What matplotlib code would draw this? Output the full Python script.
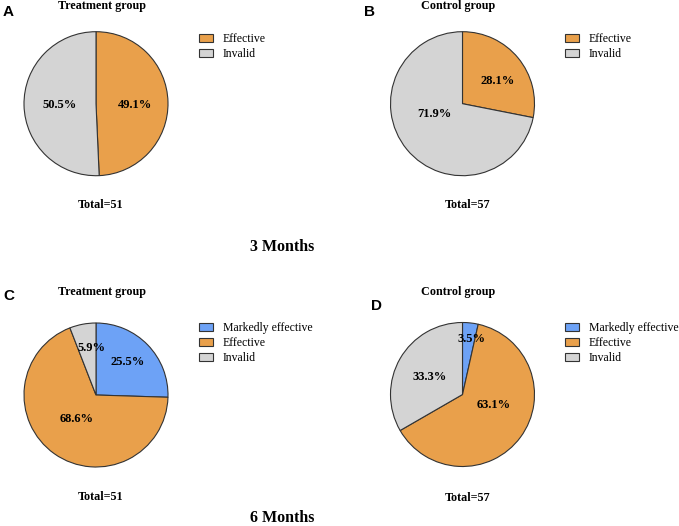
import matplotlib
matplotlib.use("Agg")
import matplotlib.pyplot as plt

# data
legend_2 = ["Effective", "Invalid"]
legend_3 = ["Markedly effective", "Effective", "Invalid"]

a_vals = [49.1, 50.5]
b_vals = [28.1, 71.9]
c_vals = [25.5, 68.6, 5.9]
d_vals = [3.5, 63.1, 33.3]

a_total, b_total, c_total, d_total = 51, 57, 51, 57

orange = "#E9A04B"
grey = "#D4D4D4"
blue = "#6DA2F6"

W, H = 679, 526
R = 72.0  # pie radius in pixels

plt.rcParams["font.family"] = ["Liberation Serif", "DejaVu Serif"]
fig = plt.figure(figsize=(W / 100, H / 100), dpi=100)


def ftext(x, y, s, **kw):
    fig.text(x / W, 1 - y / H, s, ha="center", va="center", **kw)


def draw_pie(cx, cy, vals, colors, labels, label_pos, leg_x, leg_y):
    size = 2.2 * R
    ax = fig.add_axes([(cx - size / 2) / W, (H - cy - size / 2) / H, size / W, size / H])
    wedges, _ = ax.pie(vals, colors=colors, startangle=90, counterclock=False,
                       wedgeprops=dict(edgecolor="#333333", linewidth=0.8))
    ax.set_xlim(-1.1, 1.1)
    ax.set_ylim(-1.1, 1.1)
    ax.set_aspect("equal")
    for v, (dx, dy) in zip(vals, label_pos):
        ax.text(dx / R, -dy / R, "%.1f%%" % v, ha="center", va="center",
                fontsize=9, fontweight="bold")
    fs = 8.5 * 100 / 72
    ax.legend(wedges, labels, loc="upper left", frameon=False,
              bbox_to_anchor=(leg_x / W, 1 - leg_y / H), bbox_transform=fig.transFigure,
              borderpad=0, borderaxespad=0, fontsize=8.5,
              handlelength=14 / fs, handleheight=8 / fs, handletextpad=10 / fs,
              labelspacing=0.25)
    return ax


# A
draw_pie(96, 103.7, a_vals, [orange, grey], legend_2,
         [(39.3, 1.3), (-36.3, 1.3)], 199, 33)
# B
draw_pie(462.5, 103.7, b_vals, [orange, grey], legend_2,
         [(35.5, -22.7), (-27.8, 10.5)], 565, 33)
# C
draw_pie(96, 395, c_vals, [blue, orange, grey], legend_3,
         [(31.5, -32.8), (-19.7, 23.7), (-4.3, -46.7)], 199, 322)
# D
draw_pie(462.5, 394.5, d_vals, [blue, orange, grey], legend_3,
         [(9.2, -55), (31.2, 10.2), (-32.5, -17.3)], 565, 322)

sans_bold = dict(family=["Liberation Sans", "DejaVu Sans"], fontsize=11, fontweight="bold")
ftext(8.5, 11.5, "A", **sans_bold)
ftext(370, 11.5, "B", **sans_bold)
ftext(8.5, 296, "C", **sans_bold)
ftext(376.5, 306, "D", **sans_bold)

ftext(101.7, 6.5, "Treatment group", fontsize=8.7, fontweight="bold")
ftext(458, 6.5, "Control group", fontsize=8.7, fontweight="bold")
ftext(101.7, 292, "Treatment group", fontsize=8.7, fontweight="bold")
ftext(458, 292, "Control group", fontsize=8.7, fontweight="bold")

ftext(101, 205.5, "Total=%d" % a_total, fontsize=8.7, fontweight="bold")
ftext(467.5, 205.5, "Total=%d" % b_total, fontsize=8.7, fontweight="bold")
ftext(101, 497, "Total=%d" % c_total, fontsize=8.7, fontweight="bold")
ftext(467.5, 498, "Total=%d" % d_total, fontsize=8.7, fontweight="bold")

ftext(282, 247, "3 Months", fontsize=11.5, fontweight="bold")
ftext(282, 518, "6 Months", fontsize=11.5, fontweight="bold")

fig.savefig("out.png", dpi=100)
